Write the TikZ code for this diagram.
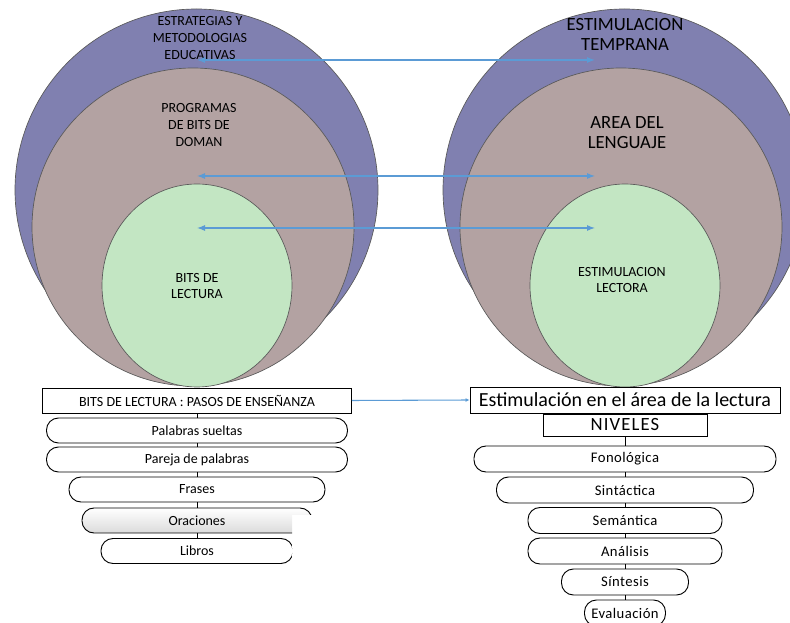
\documentclass[tikz,border=0pt]{standalone}
\usepackage{fontspec}
\setmainfont{Carlito}
\usetikzlibrary{arrows.meta}
\definecolor{azulc}{RGB}{128,128,176}
\definecolor{cafec}{RGB}{179,162,162}
\definecolor{verdec}{RGB}{195,230,195}
\definecolor{flechac}{RGB}{91,155,213}
\begin{document}
\begin{tikzpicture}[x=0.75pt,y=-0.75pt,
  capa/.style={draw=black!65, line width=0.5pt},
  rotulo/.style={align=center, inner sep=0pt, font=\fontsize{10.5}{12.5}\selectfont},
  grande/.style={align=center, inner sep=0pt, font=\fontsize{14}{14.5}\selectfont},
  caja/.style={draw, line width=0.7pt, inner sep=0pt, minimum height=18.75pt, font=\fontsize{10.5}{12}\selectfont},
  paso/.style={caja, rounded corners=9pt},
  nivel/.style={paso, minimum height=19.5pt, font=\fontsize{11}{12}\selectfont\addfontfeature{LetterSpace=3}},
  flecha/.style={flechac, line width=0.8pt, {Latex[length=6pt,width=4.5pt]}-{Latex[length=6pt,width=4.5pt]}}]
\useasboundingbox (0,0) rectangle (790,623);
% circulos
\fill[azulc, capa] (196.5,190) ellipse [x radius=181.5, y radius=181];
\fill[azulc, capa] (624.5,190) ellipse [x radius=181.5, y radius=181];
\fill[cafec, capa] (193,227) ellipse [x radius=161, y radius=159];
\fill[cafec, capa] (621,227) ellipse [x radius=161, y radius=159];
\fill[verdec, capa] (197,285.5) ellipse [x radius=95, y radius=101.5];
\fill[verdec, capa] (625,285.5) ellipse [x radius=95, y radius=101.5];
% textos
\node [rotulo] (estr) at (200,38) {ESTRATEGIAS Y\\METODOLOGIAS\\EDUCATIVAS};
\node [rotulo] (prog) at (199,125) {PROGRAMAS\\DE BITS DE\\DOMAN};
\node [rotulo] (bits) at (197,286) {BITS DE\\LECTURA};
\node [grande] (temp) at (625,34.5) {ESTIMULACION\\TEMPRANA};
\node [grande] (area) at (627,132.5) {AREA DEL\\LENGUAJE};
\node [rotulo] (lect) at (622,280) {ESTIMULACION\\LECTORA};
% flechas
\coordinate (a1) at (197,60);  \coordinate (b1) at (595,60);
\coordinate (a2) at (197,176); \coordinate (b2) at (595,176);
\coordinate (a3) at (197,228); \coordinate (b3) at (595,228);
\draw [flecha] (a1) -- (b1);
\draw [flecha] (a2) -- (b2);
\draw [flecha] (a3) -- (b3);
% pasos de ensenanza
\node [caja, minimum width=231.75pt] (bl) at (197,400.5) {BITS DE LECTURA : PASOS DE ENSEÑANZA};
\node [paso, minimum width=225.75pt] (p1) at (197,430.5) {Palabras sueltas};
\node [paso, minimum width=225.75pt] (p2) at (197,459.5) {Pareja de palabras};
\node [paso, minimum width=192pt] (p3) at (197,489.5) {Frases};
\begin{scope}
  \clip (0,500) -- (330,500) -- (330,515) -- (292,515) -- (292,570) -- (0,570) -- cycle;
  \node [paso, minimum width=172.5pt, top color=white, bottom color=black!14] (p4) at (197,520.5) {Oraciones};
  \node [paso, minimum width=144pt] (p5) at (197,551) {Libros};
\end{scope}
\foreach \i/\j in {bl/p1, p1/p2, p2/p3, p3/p4, p4/p5}
  \draw [line width=0.7pt] (\i.south) -- (\j.north);
% niveles
\node [caja, minimum width=232.5pt, minimum height=19.5pt, font=\fontsize{15}{16}\selectfont] (el) at (625,400) {Estimulación en el área de la lectura};
\node [caja, minimum width=123pt, minimum height=16.5pt, font=\fontsize{14}{15}\selectfont\addfontfeature{LetterSpace=6}] (niv) at (625,425) {NIVELES};
\node [nivel, minimum width=226.5pt] (n1) at (625,459) {Fonológica};
\node [nivel, minimum width=192.75pt] (n2) at (625,490) {Sintáctica};
\node [nivel, minimum width=145.5pt] (n3) at (625,520.5) {Semántica};
\node [nivel, minimum width=145.5pt] (n4) at (625,551) {Análisis};
\node [nivel, minimum width=95.25pt] (n5) at (625,582) {Síntesis};
\node [nivel, minimum width=60.75pt] (n6) at (625,613) {Evaluación};
\foreach \i/\j in {el/niv, niv/n1, n1/n2, n2/n3, n3/n4, n4/n5, n5/n6}
  \draw [line width=0.7pt] (\i.south) -- (\j.north);
\draw [flechac, line width=0.8pt, -{Latex[length=3pt,width=3pt]}] (bl.east) -- (el.west);
\end{tikzpicture}
\end{document}
